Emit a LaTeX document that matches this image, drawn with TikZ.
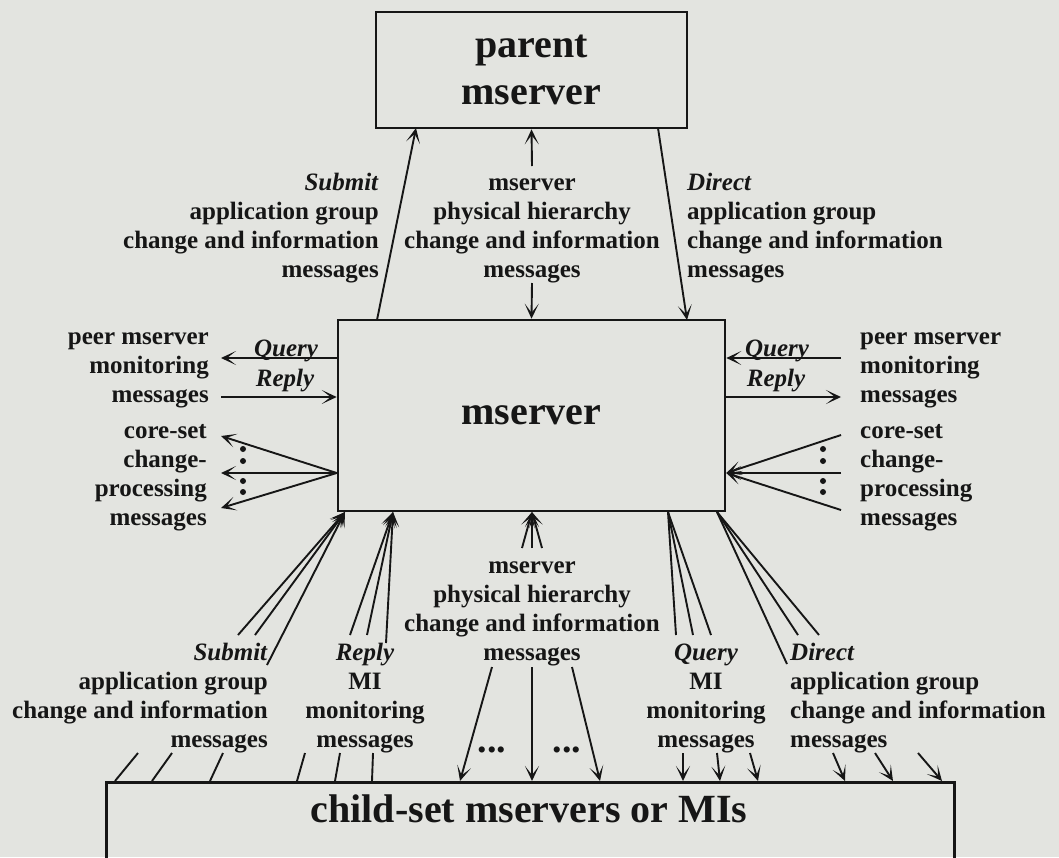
\documentclass[tikz,border=0pt]{standalone}
\usepackage{fontspec}
\setmainfont{Liberation Serif}
\usetikzlibrary{arrows.meta}
\definecolor{paper}{RGB}{227,228,224}
\definecolor{ink}{RGB}{22,22,22}
\begin{document}
\begin{tikzpicture}[x=1pt,y=-1pt,
  box/.style={draw=ink,line width=2.6pt,inner sep=0pt},
  big/.style={font=\fontsize{40}{47}\selectfont\bfseries,text=ink,align=center},
  lbl/.style={font=\fontsize{25}{29}\selectfont\bfseries,text=ink,inner sep=0pt},
  tag/.style={font=\fontsize{25}{29}\selectfont\bfseries\itshape,text=ink,inner sep=0pt,anchor=base},
  ellip/.style={font=\fontsize{38}{38}\selectfont\bfseries,text=ink,inner sep=0pt},
  wire/.style={draw=ink,line width=1.9pt},
  arr/.style={wire,-{Stealth[length=15pt,width=14pt,inset=9pt]}},
  dot/.style={fill=ink},
]
% page
\useasboundingbox (0,0) rectangle (1059,857);
\clip (0,0) rectangle (1059,857);
\fill[paper] (0,0) rectangle (1059,857);

% ---------- boxes ----------
\node[box,big,minimum width=311pt,minimum height=116pt] (parent) at (531.5,70) {parent\\mserver};
\node[box,big,minimum width=387pt,minimum height=191pt] (mserver) at (531.5,415.5) {mserver};
\node[box,minimum width=848pt,minimum height=130pt,anchor=north west] (child) at (105,781) {};
\node[big] (childtext) at (529,809) {child-set mservers or MIs};

% ---------- parent <-> mserver ----------
\coordinate (subUp) at (416,128);
\coordinate (subLo) at (377,320);
\coordinate (dirUp) at (658,128);
\coordinate (dirLo) at (687,320);
\draw[arr] (subLo) -- (subUp);
\draw[arr] (dirUp) -- (dirLo);
\coordinate (hierA) at (532,166);
\coordinate (hierB) at (532,283);
\draw[arr] (hierA) -- (parent.south);
\draw[arr] (hierB) -- (mserver.north);

\node[lbl,align=right,anchor=north east] (topsub) at (379,169.7)
  {\strut\textit{Submit}\\\strut application group\\\strut change and information\\\strut messages};
\node[lbl,align=center,anchor=north] (tophier) at (532,169.7)
  {\strut mserver\\\strut physical hierarchy\\\strut change and information\\\strut messages};
\node[lbl,align=left,anchor=north west] (topdir) at (687,169.7)
  {\strut\textit{Direct}\\\strut application group\\\strut change and information\\\strut messages};

% ---------- peers, left ----------
\coordinate (qL) at (221,358);
\coordinate (rL) at (221,397);
\draw[arr] (mserver.west |- qL) -- (qL);
\draw[arr] (rL) -- (mserver.west |- rL);
\node[tag] (qLt) at (286,356) {Query};
\node[tag] (rLt) at (285,386) {Reply};
\node[lbl,align=right,anchor=north east] (peerL) at (209,323.7)
  {\strut peer mserver\\\strut monitoring\\\strut messages};

\coordinate (cL1) at (221,436);
\coordinate (cL2) at (221,473);
\coordinate (cL3) at (221,508);
\draw[arr] (mserver.west |- cL2) -- (cL1);
\draw[arr] (mserver.west |- cL2) -- (cL2);
\draw[arr] (mserver.west |- cL2) -- (cL3);
\foreach \yy in {449,461,481,492} \fill[dot] (243,\yy) circle (3pt);
\node[lbl,align=right,anchor=north east] (coreL) at (207,418)
  {\strut core-set\\\strut change-\\\strut processing\\\strut messages};

% ---------- peers, right ----------
\coordinate (qR) at (841,358);
\coordinate (rR) at (841,397);
\draw[arr] (qR) -- (mserver.east |- qR);
\draw[arr] (mserver.east |- rR) -- (rR);
\node[tag] (qRt) at (777,356) {Query};
\node[tag] (rRt) at (776,386) {Reply};
\node[lbl,align=left,anchor=north west] (peerR) at (860,323.7)
  {\strut peer mserver\\\strut monitoring\\\strut messages};

\coordinate (cR1) at (841,435);
\coordinate (cR2) at (841,473);
\coordinate (cR3) at (841,510);
\draw[arr] (cR1) -- (mserver.east |- cR2);
\draw[arr] (cR2) -- (mserver.east |- cR2);
\draw[arr] (cR3) -- (mserver.east |- cR2);
\foreach \yy in {449,461,481,492} \fill[dot] (823,\yy) circle (3pt);
\node[lbl,align=left,anchor=north west] (coreR) at (860,418)
  {\strut core-set\\\strut change-\\\strut processing\\\strut messages};

% ---------- mserver <-> children ----------
\coordinate (subT) at (345,512);
\coordinate (repT) at (393,512);
\coordinate (hieT) at (532,512);
\coordinate (qryT) at (668,512);
\coordinate (dirT) at (717,512);

\foreach \p in {(238,635),(255,635),(267,665)} \draw[arr] \p -- (subT);
\foreach \p in {(350,635),(367,635),(386,643)} \draw[arr] \p -- (repT);
\foreach \p in {(522,548),(532,548),(542,548)} \draw[arr] \p -- (hieT);
\foreach \p in {(676,635),(693,635),(711,635)} \draw[wire] (qryT) -- \p;
\foreach \p in {(787,664),(798,635),(819,635)} \draw[wire] (dirT) -- \p;

\node[lbl,align=right,anchor=north east] (botsub) at (268,639.7)
  {\strut\textit{Submit}\\\strut application group\\\strut change and information\\\strut messages};
\node[lbl,align=center,anchor=north] (botrep) at (365,639.7)
  {\strut\textit{Reply}\\\strut MI\\\strut monitoring\\\strut messages};
\node[lbl,align=center,anchor=north] (bothier) at (532,552.7)
  {\strut mserver\\\strut physical hierarchy\\\strut change and information\\\strut messages};
\node[lbl,align=center,anchor=north] (botqry) at (706,639.7)
  {\strut\textit{Query}\\\strut MI\\\strut monitoring\\\strut messages};
\node[lbl,align=left,anchor=north west] (botdir) at (790,639.7)
  {\strut\textit{Direct}\\\strut application group\\\strut change and information\\\strut messages};

% hierarchy messages fanning down to the child set
\coordinate (hd1) at (492,667);
\coordinate (hd2) at (532,667);
\coordinate (hd3) at (572,667);
\draw[arr] (hd1) -- (460,781);
\draw[arr] (hd2) -- (532,781);
\draw[arr] (hd3) -- (600,781);
\node[ellip] (ell1) at (492,750) {...};
\node[ellip] (ell2) at (567,750) {...};

% stubs entering the child-set box
\foreach \a/\b in {115/138,152/172,210/223} \draw[wire] (\a,781) -- (\b,753);
\foreach \a/\b in {297/305,335/340,372/373} \draw[wire] (\a,781) -- (\b,753);
\foreach \a/\b in {683/683,717/720,750/758} \draw[arr] (\a,753) -- (\b,781);
\foreach \a/\b in {833/845,875/893,918/942} \draw[arr] (\a,753) -- (\b,781);
\end{tikzpicture}
\end{document}
